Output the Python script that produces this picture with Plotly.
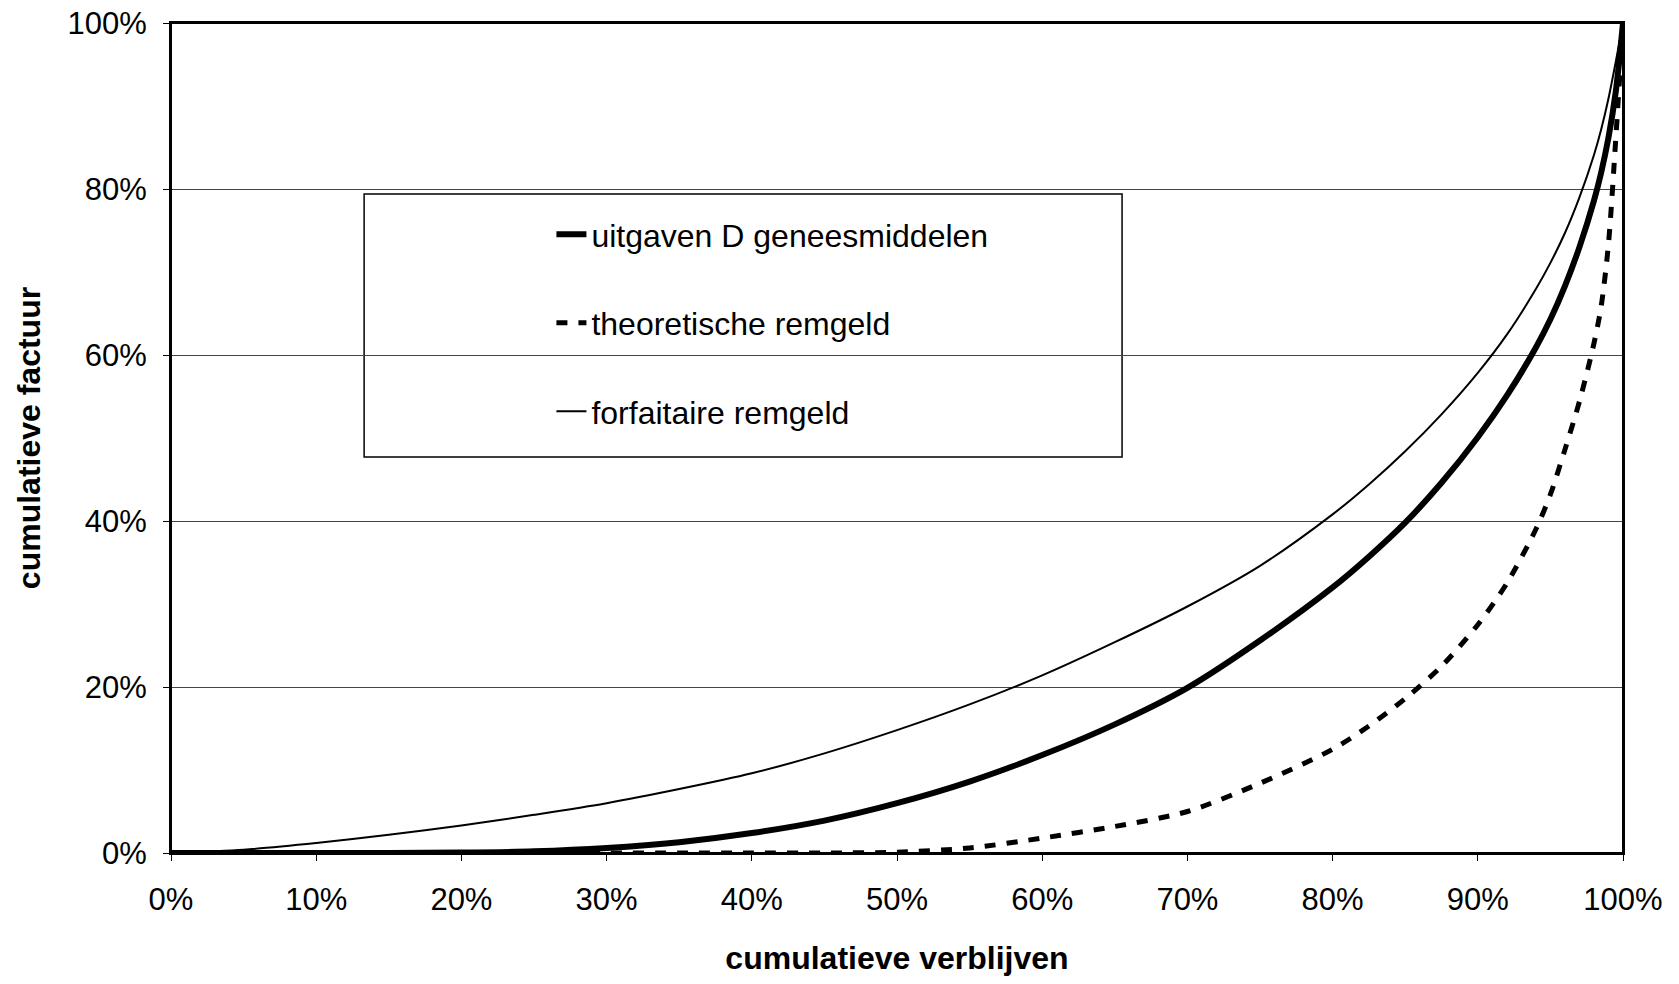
import plotly.graph_objects as go

# cumulative share of stays (%)
x_pct = [0, 5, 10, 15, 20, 25, 30, 35, 40, 45, 50, 55, 60, 65, 70, 75, 80, 82.5, 85, 87.5,
         90, 92, 94, 95, 96, 97, 98, 98.5, 99, 99.5, 100]

# cumulative share of invoice (%)
uitgaven_d = [0, 0, 0, 0, 0.05, 0.2, 0.6, 1.3, 2.4, 3.9, 6.0, 8.6, 11.8, 15.5, 19.9,
              25.6, 32.0, 35.7, 39.8, 44.6, 50.1, 55.1, 60.9, 64.3, 68.3, 73.0, 78.6, 82.0, 86.2, 91.7, 100]
theoretische = [0, 0, 0, 0, 0, 0, 0, 0, 0, 0, 0.1, 0.6, 1.8, 3.2, 5.0,
                8.4, 12.5, 15.3, 18.6, 22.5, 27.5, 32.5, 39.0, 43.2, 48.6, 54.4, 61.4, 65.9, 73.4, 86.0, 100]
forfaitaire = [0, 0.4, 1.2, 2.2, 3.3, 4.6, 6.0, 7.7, 9.6, 12.0, 14.8, 17.9, 21.4, 25.4, 29.7,
               34.6, 40.8, 44.4, 48.4, 52.85, 57.85, 62.45, 67.95, 71.1, 74.7, 79.0, 84.1, 87.2, 90.9, 95.3, 100]

series_names = ["uitgaven D geneesmiddelen", "theoretische remgeld", "forfaitaire remgeld"]
x_ticks = [0, 10, 20, 30, 40, 50, 60, 70, 80, 90, 100]
y_ticks = [0, 20, 40, 60, 80, 100]

FONT = "Liberation Sans, Arial, sans-serif"

fig = go.Figure()
fig.add_trace(go.Scatter(x=x_pct, y=uitgaven_d, mode="lines", name=series_names[0],
                         line=dict(color="black", width=6, shape="spline", smoothing=0.8),
                         legendgroup="a"))
fig.add_trace(go.Scatter(x=x_pct, y=theoretische, mode="lines", name=series_names[1],
                         line=dict(color="black", width=5, dash="11px,11px", shape="spline", smoothing=0.8),
                         legendgroup="b"))
fig.add_trace(go.Scatter(x=x_pct, y=forfaitaire, mode="lines", name=series_names[2],
                         line=dict(color="black", width=2, shape="spline", smoothing=0.8),
                         legendgroup="c"))

# the page body adds an 8px margin, so the figure is 16px smaller than the window
fig.update_layout(
    width=1663, height=968,
    margin=dict(l=163, r=48, t=15, b=123),
    paper_bgcolor="white", plot_bgcolor="white",
    font=dict(family=FONT, color="black", size=31),
    showlegend=True,
    legend=dict(
        x=0.262, y=0.7785, xanchor="left", yanchor="top",
        bgcolor="rgba(0,0,0,0)", borderwidth=0,
        font=dict(family=FONT, size=32, color="black"),
        tracegroupgap=44, traceorder="grouped",
    ),
    shapes=[
        dict(type="rect", xref="paper", yref="paper",
             x0=0.133, x1=0.655, y0=0.477, y1=0.794,
             line=dict(color="black", width=1.5), fillcolor="white", layer="below"),
        dict(type="rect", xref="paper", yref="paper",
             x0=0, x1=1, y0=0, y1=1,
             line=dict(color="black", width=2), fillcolor="rgba(0,0,0,0)", layer="above"),
    ],
)

fig.update_xaxes(
    range=[0, 100], tickvals=x_ticks, ticktext=[f"{v}%" for v in x_ticks],
    showgrid=False, zeroline=False, automargin=False,
    showline=True, linecolor="black", linewidth=2, mirror=True,
    ticks="outside", ticklen=6, tickcolor="black", tickwidth=1,
    ticklabelstandoff=12, ticklabeloverflow="allow",
    tickfont=dict(family=FONT, size=31, color="black"),
    title=dict(text="<b>cumulatieve verblijven</b>", font=dict(family=FONT, size=32, color="black"),
               standoff=34),
)
fig.update_yaxes(
    range=[0, 100], tickvals=y_ticks, ticktext=[f"{v}%" for v in y_ticks],
    showgrid=True, gridcolor="#444444", gridwidth=1, zeroline=False, automargin=False,
    showline=True, linecolor="black", linewidth=2, mirror=True,
    ticks="outside", ticklen=6, tickcolor="black", tickwidth=1,
    ticklabelstandoff=10, ticklabeloverflow="allow",
    tickfont=dict(family=FONT, size=31, color="black"),
    title=dict(text="<b>cumulatieve factuur</b>", font=dict(family=FONT, size=32, color="black"),
               standoff=17),
)

fig.write_html("out.html")
